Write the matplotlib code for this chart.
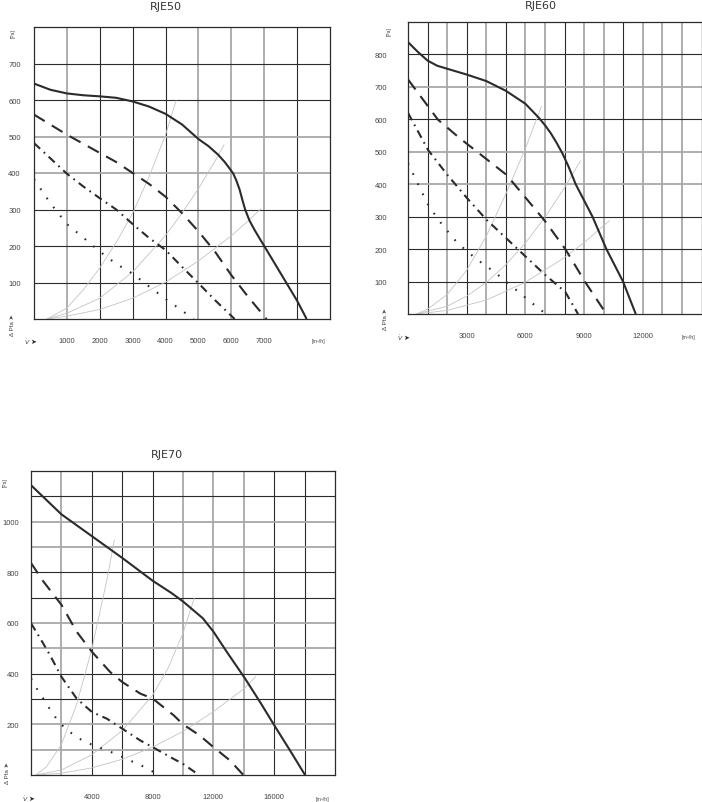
import matplotlib
matplotlib.use("Agg")
import matplotlib.pyplot as plt

# ---------------- data ----------------
# RJE50
rje50_solid_x = [0, 500, 1000, 1500, 2000, 2500, 3000, 3500, 4000, 4500, 5000, 5300, 5600, 5800, 5950, 6060, 6150, 6250, 6340, 6420, 6550, 6700, 6850, 7000, 7500, 8000, 8290]
rje50_solid_y = [645, 628, 618, 613, 610, 606, 596, 582, 562, 533, 493, 474, 450, 430, 412, 398, 380, 355, 325, 300, 270, 245, 222, 200, 125, 50, 0]
rje50_dash_x = [0, 1000, 2000, 2500, 3000, 3500, 4000, 4500, 5000, 5500, 6000, 6500, 7070]
rje50_dash_y = [560, 505, 455, 430, 400, 370, 335, 290, 240, 185, 120, 62, 0]
rje50_dashdot_x = [0, 1000, 1500, 2000, 2500, 3000, 3500, 4000, 4500, 5000, 5500, 6100]
rje50_dashdot_y = [482, 398, 363, 331, 300, 260, 222, 189, 143, 98, 52, 0]
rje50_dot_x = [0, 500, 1000, 1500, 2000, 2500, 3000, 3500, 4000, 4500, 4850]
rje50_dot_y = [383, 317, 260, 223, 185, 151, 124, 89, 55, 23, 0]
rje50_sys1_x = [400, 1000, 1500, 2000, 2500, 3000, 3500, 4000, 4320]
rje50_sys1_y = [0, 30, 80, 140, 210, 290, 390, 505, 598]
rje50_sys2_x = [400, 1000, 2000, 3000, 4000, 4500, 5000, 5500, 5780]
rje50_sys2_y = [0, 16, 57, 129, 229, 290, 357, 432, 477]
rje50_sys3_x = [400, 1000, 2000, 3000, 4000, 5000, 6000, 6500, 6900]
rje50_sys3_y = [0, 8, 26, 57, 101, 159, 228, 268, 302]

# RJE60
rje60_solid_x = [0, 500, 1000, 1500, 2000, 3000, 4000, 5000, 6000, 6700, 7000, 7300, 7600, 7900, 8200, 8570, 9000, 9430, 10140, 10990, 11640]
rje60_solid_y = [838, 808, 781, 765, 756, 738, 718, 688, 648, 604, 582, 557, 527, 494, 455, 400, 350, 300, 200, 100, 0]
rje60_dash_x = [0, 1530, 2640, 3830, 5030, 6030, 7020, 8040, 9050, 10140]
rje60_dash_y = [723, 599, 542, 486, 429, 357, 285, 200, 99, 0]
rje60_dashdot_x = [0, 1020, 2010, 3020, 4020, 5030, 6030, 7020, 8040, 8690]
rje60_dashdot_y = [620, 506, 429, 357, 290, 233, 176, 120, 68, 0]
rje60_dot_x = [0, 530, 1060, 1760, 2540, 3460, 4450, 5390, 6310, 7050]
rje60_dot_y = [465, 398, 333, 274, 218, 171, 128, 81, 35, 0]
rje60_sys1_x = [430, 1000, 2000, 3000, 4000, 5000, 6000, 6820]
rje60_sys1_y = [0, 15, 60, 135, 240, 370, 510, 640]
rje60_sys2_x = [430, 2000, 3000, 4000, 5000, 6000, 7000, 8000, 8810]
rje60_sys2_y = [0, 24, 55, 97, 152, 219, 298, 389, 472]
rje60_sys3_x = [430, 2000, 4000, 6000, 8000, 9000, 10280]
rje60_sys3_y = [0, 11, 43, 98, 174, 220, 287]

# RJE70
rje70_solid_x = [0, 2000, 4000, 6000, 8000, 9250, 10000, 11300, 12000, 12870, 14080, 15070, 16100, 17040, 18030]
rje70_solid_y = [1144, 1029, 943, 857, 767, 718, 685, 619, 566, 487, 381, 288, 187, 97, 0]
rje70_dash_x = [0, 800, 2000, 3000, 4000, 5200, 6000, 7200, 8000, 9400, 10000, 11100, 12000, 13100, 13970]
rje70_dash_y = [837, 765, 672, 566, 487, 407, 367, 321, 302, 235, 200, 156, 110, 57, 0]
rje70_dashdot_x = [0, 600, 1250, 2000, 3000, 4000, 5000, 6000, 7200, 8000, 9400, 10000, 11050]
rje70_dashdot_y = [599, 540, 473, 388, 302, 249, 222, 183, 136, 110, 63, 44, 0]
rje70_dot_x = [0, 440, 880, 1290, 1750, 2260, 2870, 3550, 4280, 4980, 5680, 6400, 7130, 7830, 8100]
rje70_dot_y = [381, 335, 295, 255, 216, 183, 156, 130, 114, 97, 81, 60, 41, 20, 10]
rje70_sys1_x = [330, 1000, 2000, 3000, 4000, 5000, 5480]
rje70_sys1_y = [0, 31, 120, 278, 497, 772, 927]
rje70_sys2_x = [330, 2000, 4000, 6000, 8000, 9000, 10000, 10740]
rje70_sys2_y = [0, 20, 80, 175, 315, 420, 560, 698]
rje70_sys3_x = [330, 2000, 4000, 6000, 8000, 10000, 12000, 14000, 14770]
rje70_sys3_y = [0, 7, 28, 62, 110, 172, 250, 340, 388]

# tick values / labels
rje50_xticks = [1000, 2000, 3000, 4000, 5000, 6000, 7000]
rje50_yticks = [100, 200, 300, 400, 500, 600, 700]
rje60_xticks = [3000, 6000, 9000, 12000]
rje60_yticks = [100, 200, 300, 400, 500, 600, 700, 800]
rje70_xticks = [4000, 8000, 12000, 16000]
rje70_yticks = [200, 400, 600, 800, 1000]

titles = ["RJE50", "RJE60", "RJE70"]

# ---------------- styling ----------------
W, H = 702, 803
fig = plt.figure(figsize=(W / 100, H / 100), dpi=100)
FAM = ["Liberation Sans", "DejaVu Sans"]
DARK = "#2e2a2b"
GRAYL = "#a8a8a8"
TXT = "#444444"


def fx(px):
    return px / W


def fy(py):
    return 1 - py / H


def make_axes(l, t, r, b):
    return fig.add_axes([fx(l), fy(b), (r - l) / W, (b - t) / H])


def draw(ax, xmax, ymax, vgrid, vdark, hgrid, hdark,
         solid, dash, dashdot, dot, systems, xt, yt, ypad):
    ax.set_xlim(0, xmax)
    ax.set_ylim(0, ymax)
    for v, d in zip(vgrid, vdark):
        ax.axvline(v, color=DARK if d else GRAYL, lw=0.8 if d else 1.3, zorder=1)
    for v, d in zip(hgrid, hdark):
        ax.axhline(v, color=DARK if d else GRAYL, lw=0.8 if d else 1.3, zorder=1)
    for s in ax.spines.values():
        s.set_color(DARK)
        s.set_linewidth(0.9)
    for sx, sy in systems:
        ax.plot(sx, sy, color="#c4c4c4", lw=0.6, zorder=2)
    ax.plot(*solid, color=DARK, lw=1.5, zorder=4, solid_capstyle="butt",
            solid_joinstyle="round")
    l1, = ax.plot(*dash, color=DARK, lw=1.5, zorder=4)
    l1.set_dashes((6, 4))
    l2, = ax.plot(*dashdot, color=DARK, lw=1.5, zorder=4)
    l2.set_dashes((4, 2.4, 0.8, 2.4))
    l3, = ax.plot(*dot, color=DARK, lw=1.5, zorder=4)
    l3.set_dashes((0.8, 4.6))
    ax.set_xticks(xt)
    ax.set_xticklabels([str(v) for v in xt], fontsize=5.5, color=TXT, family=FAM)
    ax.set_yticks(yt)
    ax.set_yticklabels([str(v) for v in yt], fontsize=5.5, color=TXT, family=FAM)
    ax.tick_params(axis="x", length=0, pad=13)
    ax.tick_params(axis="y", length=0, pad=ypad)


def side_labels(pa_xy, dp_xy, v_xy, unit_xy):
    fig.text(fx(pa_xy[0]), fy(pa_xy[1]), "[Pa]", rotation=90, fontsize=3.5,
             color=TXT, family=FAM, ha="center", va="center")
    fig.text(fx(dp_xy[0]), fy(dp_xy[1]), "\u0394 Pfa \u27a4", rotation=90, fontsize=4.5,
             color=TXT, family=FAM, ha="center", va="center")
    fig.text(fx(v_xy[0]), fy(v_xy[1]), r"$\dot{V}$", fontsize=4.5,
             color=TXT, ha="center", va="center")
    fig.text(fx(v_xy[0] + 6), fy(v_xy[1]), "\u27a4", fontsize=5,
             color=DARK, family=["DejaVu Sans"], ha="center", va="center")
    fig.text(fx(unit_xy[0]), fy(unit_xy[1]), "[m\u00b3/h]", fontsize=3.8,
             color=TXT, family=FAM, ha="center", va="center")


# RJE50
ax1 = make_axes(34, 28, 330, 320)
draw(ax1, 9000, 800,
     [1000, 2000, 3000, 4000, 5000, 6000, 7000, 8000],
     [False, True, True, True, False, False, False, True],
     [100, 200, 300, 400, 500, 600, 700],
     [True, True, True, False, False, True, True],
     (rje50_solid_x, rje50_solid_y), (rje50_dash_x, rje50_dash_y),
     (rje50_dashdot_x, rje50_dashdot_y), (rje50_dot_x, rje50_dot_y),
     [(rje50_sys1_x, rje50_sys1_y), (rje50_sys2_x, rje50_sys2_y), (rje50_sys3_x, rje50_sys3_y)],
     rje50_xticks, rje50_yticks, 9.5)
fig.text(fx(166), fy(7), titles[0], fontsize=8, color="#333333", ha="center", va="center",
         family=["DejaVu Sans"])
side_labels((13, 34), (12, 325), (27, 342), (318, 342))

# RJE60
ax2 = make_axes(408, 23, 701.5, 315)
draw(ax2, 15000, 900,
     list(range(1000, 15000, 1000)),
     [True, False, True, False, True, False, False, True, False, False, True, False, False, False],
     [100, 200, 300, 400, 500, 600, 700, 800],
     [True, True, True, False, False, True, False, True],
     (rje60_solid_x, rje60_solid_y), (rje60_dash_x, rje60_dash_y),
     (rje60_dashdot_x, rje60_dashdot_y), (rje60_dot_x, rje60_dot_y),
     [(rje60_sys1_x, rje60_sys1_y), (rje60_sys2_x, rje60_sys2_y), (rje60_sys3_x, rje60_sys3_y)],
     rje60_xticks, rje60_yticks, 15)
fig.text(fx(541), fy(6), titles[1], fontsize=8, color="#333333", ha="center", va="center",
         family=["DejaVu Sans"])
side_labels((389, 32), (385, 319), (400, 338), (688, 338))

# RJE70
ax3 = make_axes(31, 472, 335, 776)
draw(ax3, 20000, 1200,
     list(range(2000, 20000, 2000)),
     [False, True, True, True, False, False, False, True, True],
     list(range(100, 1200, 100)),
     [False, False, True, True, False, False, True, True, False, False, True],
     (rje70_solid_x, rje70_solid_y), (rje70_dash_x, rje70_dash_y),
     (rje70_dashdot_x, rje70_dashdot_y), (rje70_dot_x, rje70_dot_y),
     [(rje70_sys1_x, rje70_sys1_y), (rje70_sys2_x, rje70_sys2_y), (rje70_sys3_x, rje70_sys3_y)],
     rje70_xticks, rje70_yticks, 8.5)
fig.text(fx(167), fy(455), titles[2], fontsize=8, color="#333333", ha="center", va="center",
         family=["DejaVu Sans"])
side_labels((5, 483), (7, 773), (25, 799), (323, 800))

fig.savefig("out.png", dpi=100)
